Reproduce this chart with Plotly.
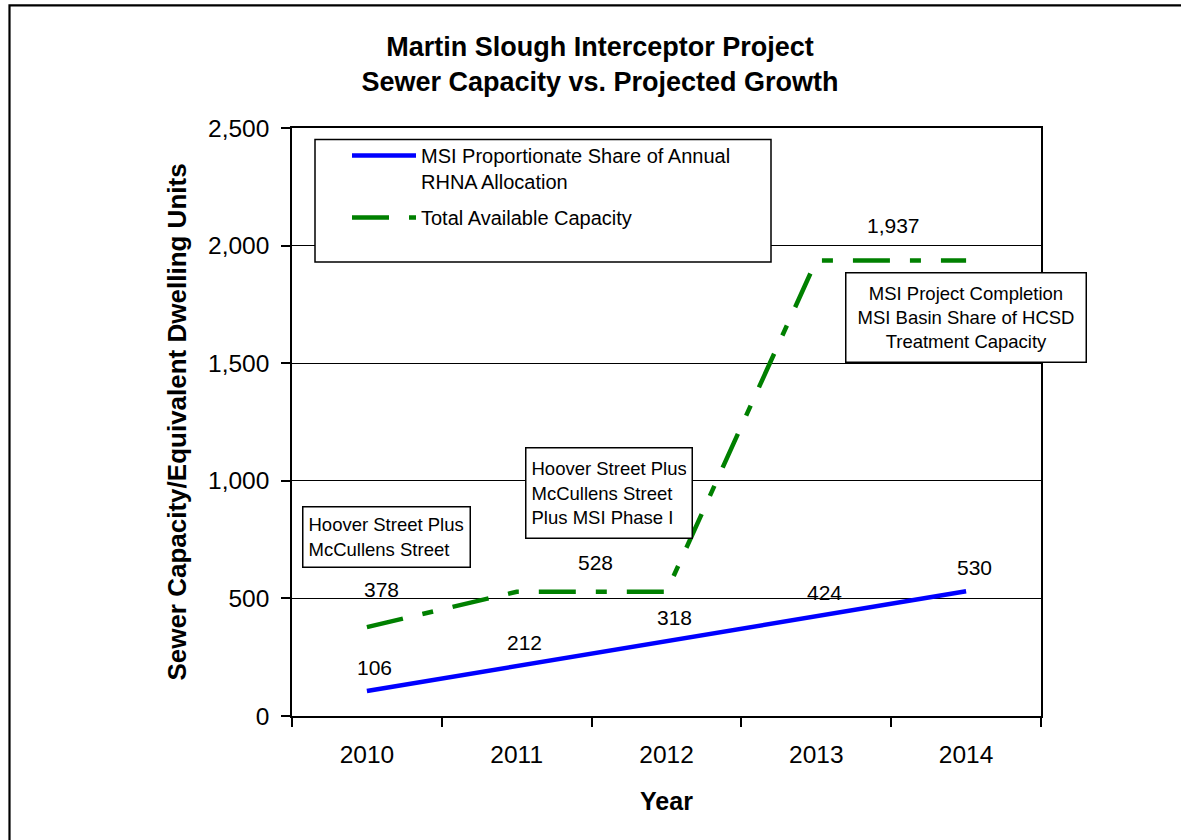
import plotly.graph_objects as go

# ---- data ----
years = ["2010", "2011", "2012", "2013", "2014"]
rhna_share = [106, 212, 318, 424, 530]
total_capacity = [378, 528, 528, 1937, 1937]
y_ticks = [0, 500, 1000, 1500, 2000, 2500]
y_ticklabels = ["0", "500", "1,000", "1,500", "2,000", "2,500"]

series_names = ["MSI Proportionate Share of Annual<br>RHNA Allocation",
                "Total Available Capacity"]
box_texts = ["Hoover Street Plus<br>McCullens Street",
             "Hoover Street Plus<br>McCullens Street<br>Plus MSI Phase I",
             "MSI Project Completion<br>MSI Basin Share of HCSD<br>Treatment Capacity"]
title_text = "Martin Slough Interceptor Project<br>Sewer Capacity vs. Projected Growth"

FONT = "Arial, Liberation Sans, sans-serif"
BLUE = "#0000FF"
GREEN = "#008000"

# ---- layout geometry (pixels) ----
W, H = 1181, 840
L, R, T, B = 292, 1041, 128, 716


def px_x(p):
    return (p - L) / (R - L)


def px_y(p):
    return (B - p) / (B - T)


fig = go.Figure()
fig.add_trace(go.Scatter(x=years, y=rhna_share, mode="lines", name=series_names[0],
                         legendgroup="a",
                         line=dict(color=BLUE, width=4.5), hoverinfo="skip"))
fig.add_trace(go.Scatter(x=years, y=total_capacity, mode="lines", name=series_names[1],
                         legendgroup="b",
                         line=dict(color=GREEN, width=4.5, dash="37px,20px,11px,20px"),
                         hoverinfo="skip"))

annotations = []
# blue data labels
for i, v in enumerate(rhna_share):
    annotations.append(dict(x=i, y=v, xref="x", yref="y", text=f"{v:,}", showarrow=False,
                            xshift=8, yshift=24, font=dict(family=FONT, size=21, color="black")))

# green data labels: one per distinct level, at the middle of each plateau
groups = []
for i, v in enumerate(total_capacity):
    if groups and groups[-1][1] == v:
        groups[-1][0].append(i)
    else:
        groups.append(([i], v))
green_shift = [(15, 38), (4, 29), (2, 35)]
for (idx, v), (dx, dy) in zip(groups, green_shift):
    annotations.append(dict(x=sum(idx) / len(idx), y=v, xref="x", yref="y", text=f"{v:,}",
                            showarrow=False, xshift=dx, yshift=dy,
                            font=dict(family=FONT, size=21, color="black")))

# text boxes
boxes = [  # (left, top, right, bottom, align)
    (302, 506, 470, 567, "left"),
    (525, 447, 692, 538, "left"),
    (845, 272, 1086, 362, "center"),
]
for txt, (x0, y0, x1, y1, al) in zip(box_texts, boxes):
    annotations.append(dict(x=px_x(x0), y=px_y(y0), xref="paper", yref="paper",
                            xanchor="left", yanchor="top", text=txt, showarrow=False,
                            align=al, valign="middle", width=x1 - x0 - 12, height=y1 - y0 - 12,
                            borderpad=5, bordercolor="black", borderwidth=1.5, bgcolor="white",
                            font=dict(family=FONT, size=18.5, color="black")))

shapes = [
    # outer chart frame
    dict(type="rect", xref="paper", yref="paper", x0=px_x(9.5), x1=px_x(1195),
         y0=px_y(855), y1=px_y(5.3), line=dict(color="black", width=2.2), layer="below"),
    # legend frame
    dict(type="rect", xref="paper", yref="paper", x0=px_x(315), x1=px_x(771),
         y0=px_y(262), y1=px_y(139.5), line=dict(color="black", width=1.5),
         fillcolor="white", layer="above"),
]

fig.update_layout(
    width=W, height=H,
    margin=dict(l=L, r=W - R, t=T, b=H - B, pad=0),
    paper_bgcolor="white", plot_bgcolor="white",
    font=dict(family=FONT, color="black"),
    title=dict(text=title_text, x=600 / W, xanchor="center", xref="container",
               y=1 - 56 / H, yanchor="middle", yref="container",
               font=dict(family=FONT, size=27, color="black", weight="bold")),
    showlegend=True,
    legend=dict(x=px_x(347), y=px_y(136), xanchor="left", yanchor="top",
                bgcolor="rgba(0,0,0,0)", borderwidth=0, valign="top",
                traceorder="grouped", tracegroupgap=7,
                font=dict(family=FONT, size=20, color="black"), itemwidth=64),
    xaxis=dict(type="category", range=[-0.5, len(years) - 0.5], tickson="boundaries",
               ticks="outside", ticklen=9, tickwidth=1.5, tickcolor="black",
               showline=True, linecolor="black", linewidth=2, mirror=True,
               showgrid=False, zeroline=False, ticklabelstandoff=16,
               tickfont=dict(family=FONT, size=24.5, color="black"),
               title=dict(text="Year", standoff=25,
                          font=dict(family=FONT, size=25, color="black", weight="bold"))),
    yaxis=dict(range=[0, 2500], tickvals=y_ticks, ticktext=y_ticklabels,
               ticks="outside", ticklen=9, tickwidth=1.5, tickcolor="black",
               showline=True, linecolor="black", linewidth=1.5, mirror=True,
               showgrid=True, gridcolor="black", gridwidth=1.2, zeroline=False,
               ticklabelstandoff=7,
               tickfont=dict(family=FONT, size=24.5, color="black"),
               title=dict(text="Sewer Capacity/Equivalent Dwelling Units", standoff=14,
                          font=dict(family=FONT, size=26, color="black", weight="bold"))),
    annotations=annotations,
    shapes=shapes,
    hovermode=False,
)

fig.write_html("out.html", config={"displayModeBar": False},
               post_script="document.body.style.margin='0px';document.body.style.overflow='hidden';")
